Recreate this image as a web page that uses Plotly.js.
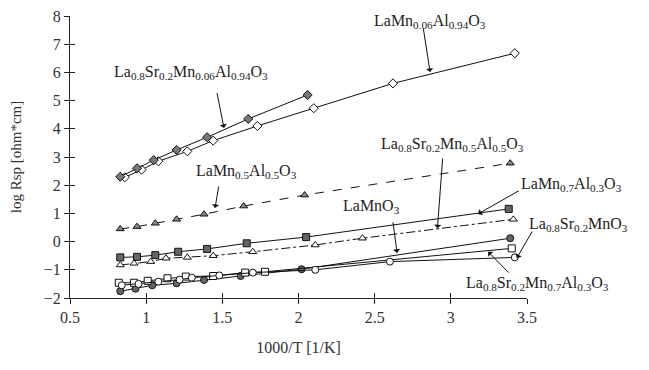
<!DOCTYPE html>
<html><head><meta charset="utf-8">
<script src="https://cdn.plot.ly/plotly-3.0.1.min.js"></script>
<style>html,body{margin:0;padding:0;background:#fff}#chart{width:649px;height:370px}</style>
</head><body><div id="chart"></div>
<script>
// LaMn0.06Al0.94O3 (open diamonds)
const xMn006 = [0.86, 0.97, 1.08, 1.27, 1.44, 1.73, 2.10, 2.62, 3.42];
const yMn006 = [2.28, 2.55, 2.85, 3.20, 3.58, 4.10, 4.73, 5.61, 6.68];
// La0.8Sr0.2Mn0.06Al0.94O3 (hatched diamonds)
const xSrMn006 = [0.83, 0.94, 1.05, 1.20, 1.40, 1.67, 2.06];
const ySrMn006 = [2.30, 2.60, 2.89, 3.25, 3.70, 4.35, 5.20];
// LaMn0.5Al0.5O3 (hatched triangles)
const xMn05 = [0.83, 0.94, 1.06, 1.20, 1.38, 1.64, 2.04, 3.39];
const yMn05 = [0.45, 0.53, 0.65, 0.79, 0.97, 1.26, 1.65, 2.78];
// LaMn0.7Al0.3O3 (hatched squares)
const xMn07 = [0.83, 0.94, 1.06, 1.21, 1.40, 1.66, 2.05, 3.38];
const yMn07 = [-0.56, -0.54, -0.48, -0.36, -0.26, -0.06, 0.16, 1.16];
// La0.8Sr0.2Mn0.5Al0.5O3 (open triangles)
const xSrMn05 = [0.83, 0.92, 1.03, 1.13, 1.27, 1.44, 1.70, 2.11, 2.42, 3.41];
const ySrMn05 = [-0.83, -0.77, -0.71, -0.59, -0.56, -0.50, -0.36, -0.12, 0.12, 0.79];
// LaMnO3-type (hatched circles)
const xCirc = [0.83, 0.93, 1.04, 1.20, 1.38, 1.62, 2.02, 3.39];
const yCirc = [-1.76, -1.67, -1.55, -1.48, -1.36, -1.22, -0.98, 0.12];
// La0.8Sr0.2Mn0.7Al0.3O3 (open squares)
const xSq = [0.82, 0.92, 1.01, 1.14, 1.26, 1.44, 1.65, 1.78, 3.40];
const ySq = [-1.46, -1.46, -1.39, -1.30, -1.24, -1.22, -1.10, -1.07, -0.24];
// La0.8Sr0.2MnO3 (open circles)
const xOc = [0.84, 0.95, 1.08, 1.22, 1.30, 1.48, 1.70, 2.11, 2.60, 3.42];
const yOc = [-1.55, -1.50, -1.42, -1.35, -1.28, -1.20, -1.10, -1.00, -0.71, -0.56];

const xTicks = [0.5, 1, 1.5, 2, 2.5, 3, 3.5];
const xTickText = ['0.5', '1', '1.5', '2', '2.5', '3', '3.5'];
const yTicks = [-2, -1, 0, 1, 2, 3, 4, 5, 6, 7, 8];
const X0 = 0.5, X1 = 3.5, Y0 = -2, Y1 = 8;

function tr(x, y, sym, fill, dash) {
  return {x: x, y: y, type: 'scatter', mode: 'lines+markers', cliponaxis: false,
    line: {color: '#111', width: 1, dash: dash || 'solid'},
    marker: {symbol: sym, size: 7, color: fill, line: {color: '#111', width: 1}}};
}
const data = [
  tr(xMn006, yMn006, 'diamond', '#fff'),
  tr(xSrMn006, ySrMn006, 'diamond', '#777'),
  tr(xMn05, yMn05, 'triangle-up', '#888', 'dash'),
  tr(xMn07, yMn07, 'square', '#666'),
  tr(xSrMn05, ySrMn05, 'triangle-up', '#fff', 'dashdot'),
  tr(xCirc, yCirc, 'circle', '#666'),
  tr(xSq, ySq, 'square', '#fff'),
  tr(xOc, yOc, 'circle', '#fff')
];

const F = 'Liberation Serif, Times New Roman, serif';
function px(x) { return (x - X0) / (X1 - X0); }
function py(y) { return (y - Y0) / (Y1 - Y0); }
function lab(text, x, y) {
  return {text: text, x: px(x), y: py(y), xref: 'paper', yref: 'paper', showarrow: false,
    xanchor: 'center', yanchor: 'middle',
    font: {family: F, size: 16, color: '#222'}};
}
function arr(tx, ty, hx, hy) {
  return {text: '', x: hx, y: hy, ax: tx, ay: ty, xref: 'x', yref: 'y', axref: 'x', ayref: 'y',
    showarrow: true, arrowhead: 1, arrowsize: 1.2, arrowwidth: 1, arrowcolor: '#111'};
}
const annotations = [
  lab('LaMn<sub>0.06</sub>Al<sub>0.94</sub>O<sub>3</sub>', 2.864, 7.79), arr(2.818, 7.61, 2.864, 6.01),
  lab('La<sub>0.8</sub>Sr<sub>0.2</sub>Mn<sub>0.06</sub>Al<sub>0.94</sub>O<sub>3</sub>', 1.294, 6.01), arr(1.463, 5.32, 1.511, 4.03),
  lab('LaMn<sub>0.5</sub>Al<sub>0.5</sub>O<sub>3</sub>', 1.656, 2.47), arr(1.478, 2.01, 1.452, 1.19),
  lab('La<sub>0.8</sub>Sr<sub>0.2</sub>Mn<sub>0.5</sub>Al<sub>0.5</sub>O<sub>3</sub>', 3.008, 3.43), arr(2.947, 3.0, 2.912, 0.47),
  lab('LaMn<sub>0.7</sub>Al<sub>0.3</sub>O<sub>3</sub>', 3.79, 2.04), arr(3.455, 1.83, 3.179, 0.98),
  lab('LaMnO<sub>3</sub>', 2.476, 1.23), arr(2.619, 0.74, 2.647, -0.40),
  lab('La<sub>0.8</sub>Sr<sub>0.2</sub>MnO<sub>3</sub>', 3.836, 0.59), arr(3.54, 0.41, 3.433, -0.58),
  lab('La<sub>0.8</sub>Sr<sub>0.2</sub>Mn<sub>0.7</sub>Al<sub>0.3</sub>O<sub>3</sub>', 3.566, -1.50), arr(3.389, -1.15, 3.245, -0.36)
];

const axFont = {family: F, size: 16, color: '#333'};
const layout = {
  width: 649, height: 370,
  margin: {l: 70, r: 122, t: 16, b: 72},
  paper_bgcolor: '#fff', plot_bgcolor: '#fff',
  showlegend: false,
  xaxis: {range: [X0, X1], tickvals: xTicks, ticktext: xTickText, ticks: 'outside', ticklen: 5,
    tickcolor: '#222', showline: true, linecolor: '#222', linewidth: 1, showgrid: false, zeroline: false,
    tickfont: axFont, title: {text: '1000/T [1/K]', font: {family: F, size: 16, color: '#333'}, standoff: 16}},
  yaxis: {range: [Y0, Y1], tickvals: yTicks, ticks: 'outside', ticklen: 5,
    tickcolor: '#222', showline: true, linecolor: '#222', linewidth: 1, showgrid: false, zeroline: false,
    tickfont: axFont, title: {text: 'log Rsp [ohm*cm]', font: {family: F, size: 15, color: '#333'}, standoff: 18}},
  xaxis2: {range: [X0, X1], overlaying: 'x', anchor: 'y2', tickvals: xTicks, showticklabels: false,
    ticks: 'inside', ticklen: 5, tickcolor: '#222', showgrid: false, zeroline: false, showline: false},
  yaxis2: {range: [Y0, Y1], overlaying: 'y', anchor: 'x2', tickvals: yTicks, showticklabels: false,
    ticks: 'inside', ticklen: 5, tickcolor: '#222', showgrid: false, zeroline: false, showline: false},
  annotations: annotations
};
data.push({x: [], y: [], xaxis: 'x2', yaxis: 'y2', type: 'scatter', showlegend: false});
Plotly.newPlot('chart', data, layout, {displayModeBar: false, staticPlot: true});
</script></body></html>
